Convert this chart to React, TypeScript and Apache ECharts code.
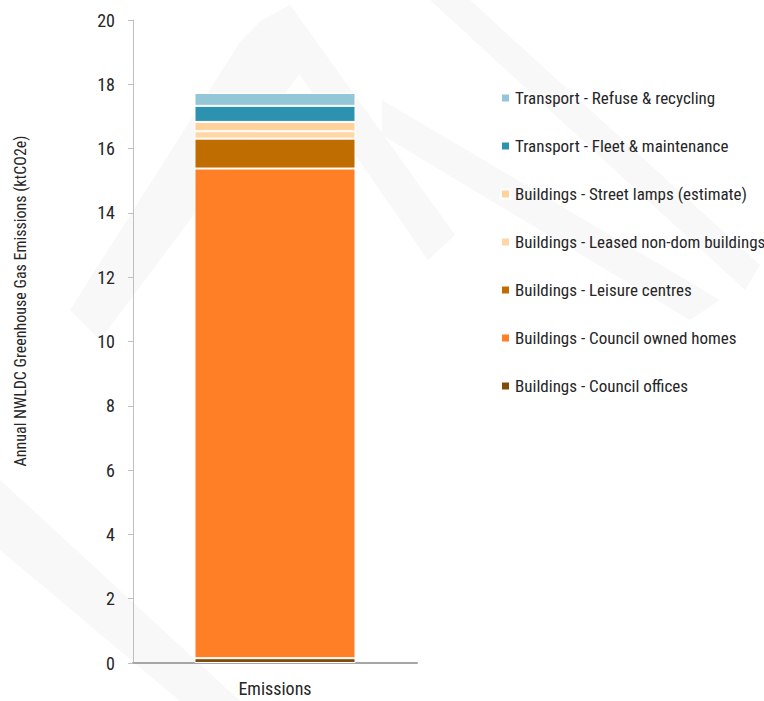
import React, { useEffect, useRef } from "react";
import * as echarts from "echarts";

// Stacked emissions breakdown (ktCO2e), bottom to top
const categories = ["Emissions"];
const seriesNames = [
  "Buildings - Council offices",
  "Buildings - Council owned homes",
  "Buildings - Leisure centres",
  "Buildings - Leased non-dom buildings",
  "Buildings - Street lamps (estimate)",
  "Transport - Fleet & maintenance",
  "Transport - Refuse & recycling",
];
const councilOffices = [0.15];
const councilHomes = [15.23];
const leisureCentres = [0.93];
const leasedNonDom = [0.23];
const streetLamps = [0.29];
const fleetMaintenance = [0.5];
const refuseRecycling = [0.4];
const seriesValues = [
  councilOffices,
  councilHomes,
  leisureCentres,
  leasedNonDom,
  streetLamps,
  fleetMaintenance,
  refuseRecycling,
];
const seriesColors = [
  "#7F4C0A",
  "#FF7F27",
  "#BF6C00",
  "#FFD7A6",
  "#FFD19B",
  "#2C92B0",
  "#93C6D6",
];
const yTicks = { min: 0, max: 20, interval: 2 };

const FONT = "'Roboto Condensed', 'DejaVu Sans Condensed', sans-serif";
const TEXT = "#262626";
const WM = "#f8f8f8";

export default function App() {
  const ref = useRef<HTMLDivElement>(null);

  useEffect(() => {
    if (!ref.current) return;
    const chart = echarts.init(ref.current, undefined, { renderer: "svg" });

    // faint background watermark strokes
    const band = (pts: number[][]) => ({
      type: "polygon",
      z: -10,
      silent: true,
      shape: { points: pts },
      style: { fill: WM },
    });

    chart.setOption({
      animation: false,
      backgroundColor: "#ffffff",
      textStyle: { fontFamily: FONT },
      grid: { left: 133, right: 347, top: 20, bottom: 38, containLabel: false },
      legend: {
        orient: "vertical",
        left: 500,
        top: 88,
        padding: 0,
        icon: "rect",
        itemWidth: 9,
        itemHeight: 9,
        itemGap: 28,
        selectedMode: false,
        data: [...seriesNames].reverse(),
        textStyle: { fontFamily: FONT, fontSize: 17, color: TEXT, lineHeight: 20 },
      },
      xAxis: {
        type: "category",
        data: categories,
        axisLine: { lineStyle: { color: "#a6a6a6", width: 2 } },
        axisTick: { show: false },
        axisLabel: { fontFamily: FONT, fontSize: 18, color: TEXT, margin: 16 },
      },
      yAxis: {
        type: "value",
        min: yTicks.min,
        max: yTicks.max,
        interval: yTicks.interval,
        axisLine: { show: true, lineStyle: { color: "#bfbfbf", width: 1 } },
        axisTick: { show: true, length: 5, lineStyle: { color: "#bfbfbf" } },
        splitLine: { show: false },
        axisLabel: { fontFamily: FONT, fontSize: 18, color: TEXT, margin: 18 },
      },
      series: seriesNames.map((name, i) => ({
        name,
        type: "bar",
        stack: "total",
        barWidth: "56.7%",
        data: seriesValues[i],
        itemStyle: { color: seriesColors[i], borderColor: "#ffffff", borderWidth: 1 },
      })),
      graphic: [
        band([[240, 42], [262, 20], [310, 60], [100, 340], [70, 310]]),
        band([[262, 20], [290, 5], [455, 235], [428, 260]]),
        band([[430, 0], [470, 0], [760, 265], [745, 290]]),
        band([[382, 100], [382, 135], [690, 320], [720, 300]]),
        band([[0, 480], [0, 550], [180, 701], [240, 701]]),
        {
          type: "text",
          x: 20,
          y: 301,
          rotation: Math.PI / 2,
          style: {
            text: "Annual NWLDC Greenhouse Gas Emissions (ktCO2e)",
            fontFamily: FONT,
            fontSize: 16,
            fill: TEXT,
            align: "center",
            verticalAlign: "middle",
          },
        },
      ],
    });

    return () => chart.dispose();
  }, []);

  return (
    <div
      ref={ref}
      style={{ position: "fixed", left: 0, top: 0, width: 764, height: 701 }}
    />
  );
}
